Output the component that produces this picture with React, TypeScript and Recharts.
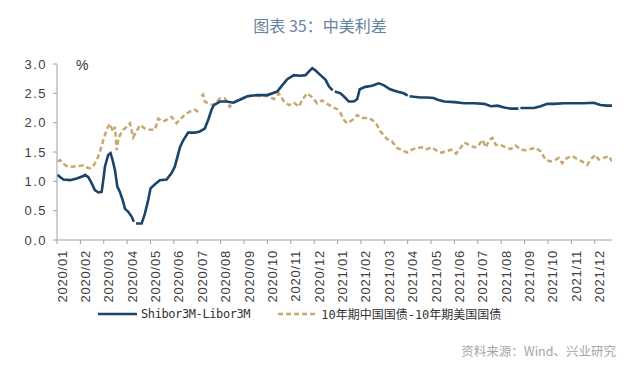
import { LineChart, Line, XAxis, YAxis } from 'recharts';

const monthLabels = [
  '2020/01', '2020/02', '2020/03', '2020/04', '2020/05', '2020/06',
  '2020/07', '2020/08', '2020/09', '2020/10', '2020/11', '2020/12',
  '2021/01', '2021/02', '2021/03', '2021/04', '2021/05', '2021/06',
  '2021/07', '2021/08', '2021/09', '2021/10', '2021/11', '2021/12',
];
const yTicks = [0, 0.5, 1, 1.5, 2, 2.5, 3];

// x = months since 2020/01 (fractional), null = gap in the data
const shiborMonth = [
  0.01, 0.27, 0.56, 0.84, 1.13, 1.2, 1.34, 1.48, 1.62, 1.77, 1.91, 1.98, 2.05, 2.19, 2.29, 2.38, 2.48, 2.58,
  2.69, 2.81, 2.91, 3.05, 3.19, 3.29, 3.33, 3.38, 3.62, 3.76, 3.9, 4.0, 4.19, 4.4, 4.69, 4.9, 5.04, 5.26, 5.4,
  5.61, 5.9, 6.11, 6.32, 6.47, 6.61, 6.71, 6.97, 7.25, 7.54, 7.82, 8.14, 8.57, 9.0, 9.42, 9.64, 9.85, 10.13,
  10.42, 10.63, 10.77, 10.92, 11.06, 11.27, 11.49, 11.63, 11.79, 11.83, 11.88, 12.13, 12.34, 12.48, 12.69,
  12.84, 12.95, 13.19, 13.48, 13.76, 13.97, 14.25, 14.54, 14.83, 15.0, 15.04, 15.08, 15.54, 15.82, 16.11,
  16.28, 16.57, 17.0, 17.42, 17.85, 18.27, 18.56, 18.84, 19.13, 19.41, 19.74, 19.78, 19.82, 20.4, 20.69,
  20.97, 21.26, 21.68, 22.11, 22.53, 22.96, 23.24, 23.53, 23.74,
];
const shiborValue = [
  1.11, 1.03, 1.02, 1.05, 1.09, 1.11, 1.07, 0.97, 0.85, 0.81, 0.82, 1.02, 1.25, 1.45, 1.48, 1.36, 1.19, 0.91,
  0.82, 0.68, 0.53, 0.48, 0.4, 0.31, null, 0.28, 0.28, 0.45, 0.68, 0.88, 0.95, 1.02, 1.03, 1.14, 1.25, 1.58, 1.7,
  1.83, 1.83, 1.85, 1.9, 2.05, 2.22, 2.3, 2.36, 2.36, 2.34, 2.39, 2.45, 2.47, 2.47, 2.53, 2.64, 2.74, 2.81,
  2.8, 2.81, 2.87, 2.93, 2.89, 2.81, 2.73, 2.62, 2.55, null, 2.53, 2.5, 2.42, 2.36, 2.36,
  2.4, 2.57, 2.61, 2.63, 2.67, 2.64, 2.57, 2.53, 2.5, 2.46, null, 2.45, 2.43, 2.43, 2.42,
  2.39, 2.36, 2.35, 2.33, 2.33, 2.32, 2.28, 2.29, 2.26, 2.24, 2.24, null, 2.25, 2.25, 2.28,
  2.32, 2.32, 2.33, 2.33, 2.33, 2.34, 2.3, 2.29, 2.29,
];

const spreadMonth = [
  0.01, 0.13, 0.27, 0.41, 0.63, 0.84, 1.13, 1.27, 1.41, 1.55, 1.7, 1.84, 1.98, 2.12, 2.26, 2.34, 2.41, 2.48,
  2.55, 2.62, 2.69, 2.83, 2.98, 3.12, 3.26, 3.4, 3.55, 3.76, 3.97, 4.19, 4.33, 4.54, 4.69, 4.9, 5.11, 5.26,
  5.47, 5.68, 5.9, 6.04, 6.12, 6.18, 6.25, 6.32, 6.47, 6.68, 6.97, 7.18, 7.39, 7.61, 7.82, 8.14, 8.43, 8.71,
  9.0, 9.28, 9.49, 9.71, 9.92, 10.13, 10.35, 10.49, 10.7, 10.92, 11.13, 11.34, 11.56, 11.77, 11.98, 12.13,
  12.27, 12.41, 12.62, 12.84, 13.05, 13.26, 13.48, 13.69, 13.83, 13.97, 14.12, 14.33, 14.54, 14.76, 14.97,
  15.18, 15.4, 15.61, 15.82, 16.04, 16.21, 16.43, 16.64, 16.85, 17.07, 17.28, 17.42, 17.63, 17.85, 17.99,
  18.2, 18.34, 18.49, 18.63, 18.77, 18.98, 19.2, 19.41, 19.62, 19.84, 20.05, 20.26, 20.47, 20.69, 20.9,
  21.11, 21.33, 21.47, 21.61, 21.82, 22.04, 22.25, 22.46, 22.68, 22.82, 23.03, 23.17, 23.39, 23.6, 23.74,
];
const spreadValue = [
  1.34, 1.36, 1.3, 1.26, 1.25, 1.26, 1.27, 1.24, 1.22, 1.26, 1.36, 1.51, 1.7, 1.88, 1.98, 1.9, 1.85, 1.93,
  1.53, 1.7, 1.79, 1.88, 1.93, 1.99, 1.75, 1.85, 1.96, 1.9, 1.88, 1.88, 2.07, 2.02, 2.05, 2.1, 1.99, 2.05,
  2.14, 2.19, 2.22, 2.18, null, 2.45, 2.48, 2.36, 2.33, 2.3, 2.41, 2.41, 2.27, 2.36, 2.39, 2.45, 2.47, 2.45,
  2.46, 2.4, 2.5, 2.36, 2.3, 2.34, 2.27, 2.39, 2.5, 2.43, 2.33, 2.38, 2.32, 2.27, 2.23, 2.16,
  2.05, 1.99, 2.04, 2.13, 2.08, 2.08, 2.05, 1.96, 1.85, 1.79, 1.72, 1.68, 1.57, 1.53, 1.49,
  1.54, 1.57, 1.58, 1.55, 1.58, 1.53, 1.49, 1.51, 1.54, 1.47, 1.58, 1.66, 1.62, 1.58, 1.59,
  1.71, 1.58, 1.71, 1.74, 1.62, 1.62, 1.58, 1.55, 1.61, 1.54, 1.53, 1.55, 1.57, 1.51, 1.37,
  1.34, 1.37, 1.4, 1.31, 1.4, 1.43, 1.38, 1.34, 1.28, 1.37, 1.45, 1.37, 1.4, 1.43, 1.34,
];

const shiborData = shiborMonth.map((m, i) => ({ m, v: shiborValue[i] }));
const spreadData = spreadMonth.map((m, i) => ({ m, v: spreadValue[i] }));

const BLUE = '#1b4468';
const GOLD = '#c8a870';
const AXIS = '#a0a0a0';

function MonthTick({ x, y, payload }: any) {
  const tx = x + 5;
  const ty = y + 2;
  return (
    <text
      x={tx}
      y={ty}
      transform={`rotate(-90, ${tx}, ${ty})`}
      textAnchor="end"
      dominantBaseline="central"
      fontSize={13}
      letterSpacing={0.8}
      fill="#404040"
      fontFamily="'Liberation Sans', Arial, sans-serif"
    >
      {monthLabels[payload.value]}
    </text>
  );
}

export default function App() {
  return (
    <div style={{ position: 'absolute', left: 0, top: 0, width: 640, height: 370, background: '#fff', overflow: 'hidden' }}>
      <div style={{ position: 'absolute', top: 13, left: 0, width: 640, textAlign: 'center', fontSize: 16, color: '#6683a0', fontFamily: "'Noto Sans CJK SC', sans-serif" }}>
        图表 35：中美利差
      </div>
      <LineChart width={640} height={320} margin={{ top: 64, right: 28, left: 0, bottom: 25 }}>
        <XAxis
          type="number"
          dataKey="m"
          domain={[0, 23.74]}
          ticks={monthLabels.map((_, i) => i)}
          interval={0}
          tick={<MonthTick />}
          tickSize={4}
          tickMargin={4}
          height={55}
          allowDataOverflow
          axisLine={{ stroke: AXIS }}
          tickLine={{ stroke: AXIS }}
        />
        <YAxis
          domain={[0, 3]}
          ticks={yTicks}
          width={57}
          tickSize={4}
          tickMargin={6}
          tickFormatter={(v) => v.toFixed(1)}
          tick={{ fontSize: 13, fill: '#404040', fontFamily: "'Liberation Sans', Arial, sans-serif", letterSpacing: 1.5 }}
          axisLine={{ stroke: AXIS }}
          tickLine={{ stroke: AXIS }}
        />
        <Line data={spreadData} dataKey="v" stroke={GOLD} strokeWidth={2.5} strokeDasharray="5 3" dot={false} isAnimationActive={false} />
        <Line data={shiborData} dataKey="v" stroke={BLUE} strokeWidth={2.6} dot={false} isAnimationActive={false} />
      </LineChart>
      <div style={{ position: 'absolute', left: 76, top: 57, fontSize: 14, color: '#333', fontFamily: "'Liberation Sans', Arial, sans-serif" }}>%</div>
      <div style={{ position: 'absolute', left: 98, top: 305, display: 'flex', alignItems: 'center', fontSize: 12, color: '#333', fontFamily: "'DejaVu Sans Mono', 'Noto Sans CJK SC', monospace" }}>
        <svg width={40} height={16}><line x1={0} y1={8} x2={39} y2={8} stroke={BLUE} strokeWidth={2.5} /></svg>
        <span style={{ marginLeft: 3, letterSpacing: -0.4 }}>Shibor3M-Libor3M</span>
        <svg width={42} height={16} style={{ marginLeft: 28 }}><line x1={0} y1={8} x2={40} y2={8} stroke={GOLD} strokeWidth={2.5} strokeDasharray="5 3" /></svg>
        <span style={{ marginLeft: 1 }}>10年期中国国债-10年期美国国债</span>
      </div>
      <div style={{ position: 'absolute', right: 24, top: 341, fontSize: 12.5, color: '#a6a6a6', fontFamily: "'Noto Sans CJK SC', sans-serif" }}>
        资料来源：Wind、兴业研究
      </div>
    </div>
  );
}
